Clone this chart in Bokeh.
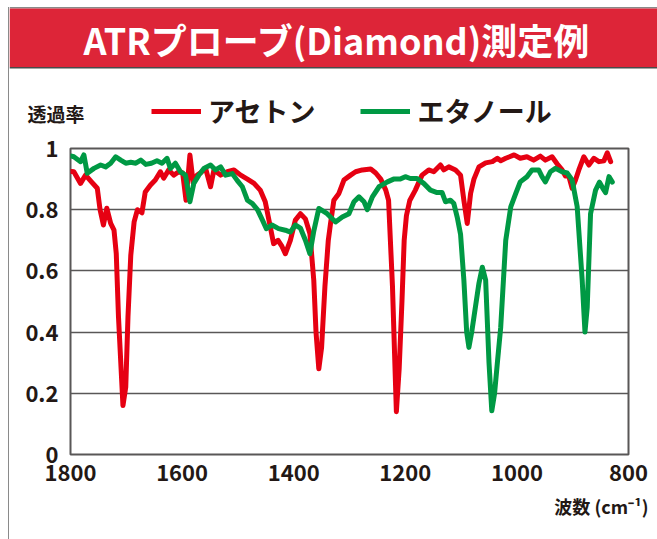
from bokeh.plotting import figure
from bokeh.models import Range1d, FixedTicker, Label, Legend, LegendItem, ColumnDataSource
from bokeh.layouts import row, column
from bokeh.embed import file_html
from bokeh.resources import INLINE

# ---------------- data ----------------
acetone_wn = [1798, 1794, 1782, 1773, 1762, 1752, 1747, 1741, 1735, 1728, 1722, 1718,
              1714, 1706, 1701, 1697, 1692, 1686, 1680, 1672, 1666, 1657, 1648, 1639,
              1633, 1624, 1615, 1606, 1599, 1593, 1586, 1580, 1573, 1567, 1558, 1549,
              1543, 1531, 1519, 1507, 1495, 1483, 1471, 1460, 1451, 1442, 1436, 1428,
              1421, 1415, 1406, 1397, 1388, 1379, 1371, 1364, 1360, 1355, 1350, 1344,
              1338, 1334, 1328, 1319, 1310, 1298, 1289, 1277, 1262, 1253, 1244, 1235,
              1230, 1223, 1216, 1211, 1206, 1202, 1198, 1192, 1182, 1170, 1158, 1149,
              1137, 1131, 1122, 1110, 1101, 1095, 1089, 1083, 1077, 1068, 1056, 1044,
              1035, 1029, 1020, 1005, 994, 982, 970, 958, 949, 937, 928, 919, 913, 907,
              901, 895, 889, 880, 871, 862, 853, 844, 838, 832]
acetone_t = [0.925, 0.924, 0.886, 0.913, 0.89, 0.87, 0.80, 0.75, 0.805, 0.755, 0.733, 0.657,
             0.45, 0.16, 0.22, 0.45, 0.65, 0.76, 0.80, 0.79, 0.858, 0.88, 0.897, 0.924,
             0.903, 0.93, 0.913, 0.924, 0.92, 0.831, 0.979, 0.886, 0.913, 0.92, 0.936, 0.875,
             0.93, 0.913, 0.924, 0.93, 0.913, 0.90, 0.886, 0.864, 0.826, 0.744, 0.689, 0.70,
             0.68, 0.656, 0.70, 0.766, 0.787, 0.77, 0.722, 0.569, 0.40, 0.28, 0.35, 0.55,
             0.70, 0.755, 0.831, 0.853, 0.897, 0.913, 0.924, 0.93, 0.933, 0.92, 0.90, 0.864,
             0.831, 0.55, 0.14, 0.28, 0.50, 0.70, 0.78, 0.83, 0.864, 0.913, 0.93, 0.924,
             0.946, 0.93, 0.94, 0.93, 0.913, 0.83, 0.755, 0.853, 0.90, 0.94, 0.953, 0.957,
             0.968, 0.96, 0.968, 0.979, 0.968, 0.973, 0.962, 0.975, 0.962, 0.973, 0.95, 0.93,
             0.91, 0.91, 0.87, 0.897, 0.93, 0.973, 0.946, 0.968, 0.957, 0.96, 0.986, 0.957]

ethanol_wn = [1798, 1794, 1782, 1776, 1770, 1758, 1746, 1737, 1728, 1719, 1710, 1701,
              1692, 1683, 1674, 1665, 1655, 1645, 1636, 1627, 1621, 1612, 1603, 1594,
              1586, 1579, 1570, 1561, 1549, 1540, 1531, 1522, 1510, 1501, 1492, 1483,
              1474, 1465, 1456, 1449, 1439, 1427, 1415, 1406, 1397, 1388, 1379, 1371,
              1364, 1355, 1340, 1325, 1313, 1301, 1292, 1283, 1274, 1268, 1259, 1247,
              1232, 1221, 1209, 1200, 1191, 1179, 1167, 1155, 1143, 1134, 1128, 1119,
              1113, 1107, 1101, 1095, 1090, 1086, 1081, 1077, 1068, 1062, 1056, 1050,
              1045, 1040, 1035, 1029, 1020, 1011, 1002, 994, 982, 973, 961, 955, 949,
              940, 931, 919, 910, 901, 892, 883, 878, 874, 868, 859, 852, 846, 841, 835, 829]
ethanol_t = [0.975, 0.973, 0.957, 0.979, 0.919, 0.935, 0.946, 0.94, 0.952, 0.973, 0.962, 0.952,
             0.955, 0.952, 0.962, 0.948, 0.952, 0.96, 0.952, 0.968, 0.935, 0.952, 0.924, 0.913,
             0.826, 0.886, 0.913, 0.935, 0.946, 0.93, 0.94, 0.913, 0.918, 0.895, 0.875, 0.831,
             0.82, 0.80, 0.766, 0.738, 0.75, 0.738, 0.733, 0.727, 0.75, 0.74, 0.70, 0.656,
             0.73, 0.804, 0.787, 0.76, 0.776, 0.787, 0.826, 0.842, 0.826, 0.80, 0.842, 0.875,
             0.891, 0.90, 0.90, 0.908, 0.902, 0.902, 0.886, 0.864, 0.856, 0.856, 0.826, 0.831,
             0.82, 0.776, 0.72, 0.569, 0.40, 0.35, 0.40, 0.449, 0.56, 0.612, 0.57, 0.30,
             0.143, 0.20, 0.30, 0.416, 0.70, 0.809, 0.853, 0.891, 0.908, 0.93, 0.93, 0.908, 0.891,
             0.924, 0.935, 0.924, 0.92, 0.897, 0.81, 0.57, 0.40, 0.48, 0.787, 0.864, 0.89, 0.87,
             0.856, 0.908, 0.89]

series_names = ["アセトン", "エタノール"]
x_ticks = [1800, 1600, 1400, 1200, 1000, 800]
y_ticks = [0, 0.2, 0.4, 0.6, 0.8, 1]
y_tick_labels = ["0", "0.2", "0.4", "0.6", "0.8", "1"]
title_text = "ATRプローブ(Diamond)測定例"
y_label = "透過率"
x_label = "波数 (cm⁻¹)"

# ---------------- styling ----------------
RED = "#E60012"
GREEN = "#009944"
BANNER = "#DD2538"
TXT = "#231815"
GRID = "#595757"
BORDER = "#8a8a8a"
FONT = "Noto Sans CJK JP"

LEFT_W = 9          # left strip with the page border line
RW = 657 - LEFT_W   # width of the right column
TOP_H, MAIN_H = 130, 360
BOT_H = 539 - TOP_H - MAIN_H


def no_align(f):
    if "frame_align" in f.properties():
        f.frame_align = False
    return f


def blank(w, h):
    f = figure(width=w, height=h, output_backend="svg", toolbar_location=None,
               x_range=Range1d(0, w), y_range=Range1d(h, 0),
               x_axis_location=None, y_axis_location=None,
               min_border=0, min_border_left=0, min_border_right=0,
               min_border_top=0, min_border_bottom=0)
    f.outline_line_color = None
    f.grid.visible = False
    f.background_fill_color = "white"
    f.border_fill_color = "white"
    return no_align(f)


# ---- left strip: page border ----
strip = blank(LEFT_W, 539)
strip.quad(left=7.5, right=9, top=6.5, bottom=539, fill_color=BORDER, line_color=None)

# ---- top: banner, title, y label, legend ----
top = blank(RW, TOP_H)
top.quad(left=0, right=RW, top=6.5, bottom=8, fill_color=BORDER, line_color=None)
top.quad(left=0, right=RW, top=8, bottom=66.5, fill_color=BANNER, line_color=None)
top.quad(left=0, right=RW, top=66.5, bottom=68, fill_color="#4a4a4a", line_color=None)
top.add_layout(Label(x=337 - LEFT_W, y=38, text=title_text, text_align="center",
                     text_baseline="middle", text_font=FONT, text_font_style="bold",
                     text_font_size="36px", text_color="white"))
top.add_layout(Label(x=27 - LEFT_W, y=113, text=y_label, text_align="left",
                     text_baseline="middle", text_font=FONT, text_font_style="bold",
                     text_font_size="19px", text_color=TXT))
# legend renderers (their data lies outside this panel's ranges; only the legend shows)
la = top.line(acetone_wn, acetone_t, line_color=RED, line_width=5)
le = top.line(ethanol_wn, ethanol_t, line_color=GREEN, line_width=5)
legend = Legend(items=[LegendItem(label=series_names[0], renderers=[la]),
                       LegendItem(label=series_names[1], renderers=[le])],
                orientation="horizontal", location=(151 - LEFT_W, 0),
                label_text_font=FONT, label_text_font_style="bold",
                label_text_font_size="27px", label_text_color=TXT,
                glyph_width=50, glyph_height=20, label_standoff=7, spacing=45,
                padding=0, margin=0, border_line_alpha=0, background_fill_alpha=0)
top.add_layout(legend)

# ---- main chart ----
FL = 70 - LEFT_W
FR = RW - (628 - LEFT_W)
FT = 148 - TOP_H
FB = MAIN_H - (454 - TOP_H)
p = figure(width=RW, height=MAIN_H, output_backend="svg", toolbar_location=None,
           x_range=Range1d(1800, 800), y_range=Range1d(0, 1),
           min_border_left=FL, min_border_right=FR,
           min_border_top=FT, min_border_bottom=FB)
no_align(p)
p.background_fill_color = "white"
p.border_fill_color = "white"
p.outline_line_color = GRID
p.outline_line_width = 2

src_a = ColumnDataSource(dict(x=acetone_wn, y=acetone_t))
src_e = ColumnDataSource(dict(x=ethanol_wn, y=ethanol_t))
p.line("x", "y", source=src_a, line_color=RED, line_width=5,
       line_join="round", line_cap="round")
p.line("x", "y", source=src_e, line_color=GREEN, line_width=5,
       line_join="round", line_cap="round")

for ax in (p.xaxis[0], p.yaxis[0]):
    ax.axis_line_color = None
    ax.major_tick_line_color = None
    ax.minor_tick_line_color = None
    ax.major_label_text_font = FONT
    ax.major_label_text_font_style = "bold"
    ax.major_label_text_font_size = "22px"
    ax.major_label_text_color = TXT
p.xaxis.ticker = FixedTicker(ticks=x_ticks)
p.yaxis.ticker = FixedTicker(ticks=y_ticks)
overrides = {}
for v, s in zip(y_ticks, y_tick_labels):
    overrides[v] = s
    overrides[str(v)] = s
p.yaxis.major_label_overrides = overrides
p.yaxis.major_label_standoff = 6
p.xaxis.major_label_standoff = 3

p.xgrid.visible = False
p.ygrid.ticker = FixedTicker(ticks=y_ticks)
p.ygrid.grid_line_color = GRID
p.ygrid.grid_line_width = 1.5

# ---- bottom: x axis title ----
bot = blank(RW, BOT_H)
bot.add_layout(Label(x=648 - LEFT_W, y=505 - TOP_H - MAIN_H, text=x_label,
                     text_align="right", text_baseline="middle", text_font=FONT,
                     text_font_style="bold", text_font_size="18px", text_color=TXT))

layout = row(strip, column(top, p, bot))
open("out.html", "w").write(file_html(layout, INLINE))
